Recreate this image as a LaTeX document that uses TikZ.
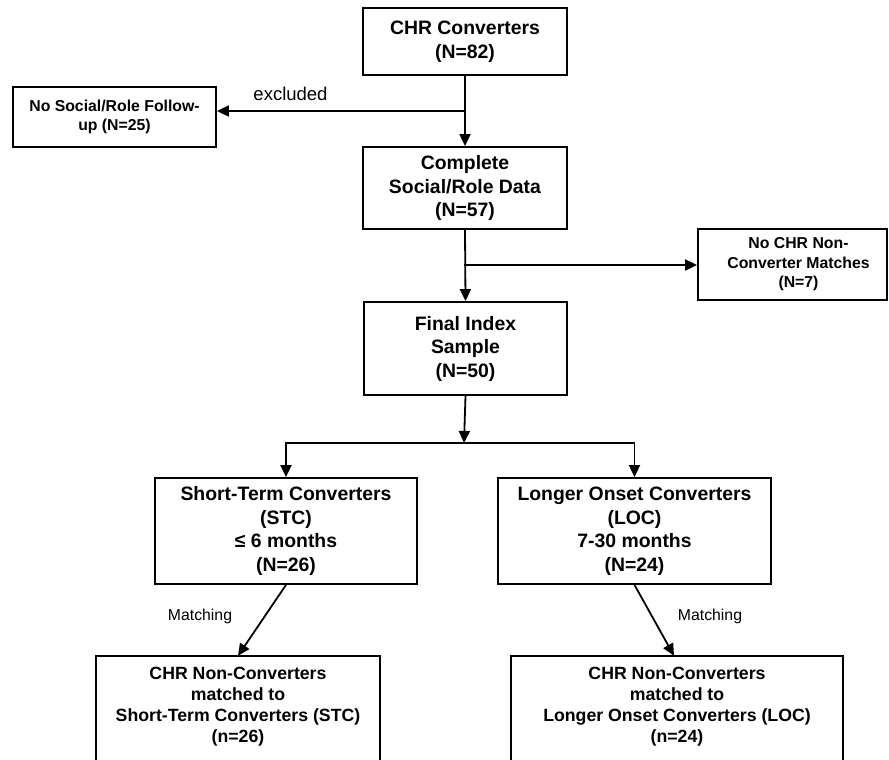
\documentclass[tikz,border=0pt]{standalone}
\usepackage{fontspec}
\setmainfont{Liberation Sans}
\usetikzlibrary{arrows.meta}
\tikzset{
  box/.style={draw, line width=1.8pt, align=center, inner sep=0pt, font=\bfseries\fontsize{19.4}{23.5}\selectfont},
  smallbox/.style={box, font=\bfseries\fontsize{15.8}{19.5}\selectfont},
  openbox/.style={align=center, inner sep=0pt, font=\bfseries\fontsize{17.7}{21}\selectfont},
  boxline/.style={line width=1.8pt},
  arr/.style={line width=1.8pt, -{Triangle[length=12pt,width=11pt]}},
  lbl/.style={inner sep=0pt, anchor=base}
}
\begin{document}
\begin{tikzpicture}[x=1pt,y=-1pt]
\useasboundingbox[fill=white] (0,0) rectangle (889,760);
% boxes
\node[box, minimum width=204, minimum height=67] (chr) at (465,41.5) {CHR Converters\\(N=82)};
\node[smallbox, minimum width=203, minimum height=60] (nosocial) at (114.5,117) {No Social/Role Follow-\\up (N=25)};
\node[box, minimum width=204, minimum height=82] (complete) at (465,188) {Complete\\Social/Role Data\\(N=57)};
\node[smallbox, minimum width=189, minimum height=71] (nochr) at (792.5,264.5) {\hspace*{12pt}No CHR Non-\\\hspace*{12pt}Converter Matches\\\hspace*{12pt}(N=7)};
\node[box, minimum width=203, minimum height=93] (final) at (465.5,348.5) {Final Index\\Sample\\(N=50)};
\node[box, minimum width=262, minimum height=106] (stc) at (286,531) {Short-Term Converters\\(STC)\\≤ 6 months\\(N=26)};
\node[box, minimum width=273, minimum height=106] (loc) at (634.5,531) {Longer Onset Converters\\(LOC)\\7-30 months\\(N=24)};
\node[openbox, minimum width=284, minimum height=101] (botL) at (238,706.5) {CHR Non-Converters\\matched to\\Short-Term Converters (STC)\\(n=26)};
\node[openbox, minimum width=332, minimum height=101] (botR) at (677,706.5) {CHR Non-Converters\\matched to\\Longer Onset Converters (LOC)\\(n=24)};
\draw[boxline] ([yshift=-15]botL.south west) |- (botL.north east) -- ([yshift=-15]botL.south east);
\draw[boxline] ([yshift=-15]botR.south west) |- (botR.north east) -- ([yshift=-15]botR.south east);
% junctions
\coordinate (j1) at (464,111);
\coordinate (j2) at (464,265);
\coordinate (split) at (464,443);
% connectors
\draw[arr] (chr.south) -- (complete.north);
\draw[arr] (j1) -- (j1 -| nosocial.east);
\draw[arr] (complete.south) -- (final.north);
\draw[arr] (j2) -- (j2 -| nochr.west);
\draw[arr] (final.south) -- (split);
\draw[arr] (split) -| (stc.north);
\draw[arr] (split) -| (loc.north);
\draw[arr] (stc.south) -- (botL.north);
\draw[arr] (loc.south) -- ([xshift=-3]botR.north);
% labels
\node[lbl, font=\fontsize{18.5}{20}\selectfont] (lexcl) at (290.5,100) {excluded};
\node[lbl, font=\fontsize{15.8}{18}\selectfont] (lm1) at (200,620) {Matching};
\node[lbl, font=\fontsize{15.8}{18}\selectfont] (lm2) at (710,620) {Matching};
\end{tikzpicture}
\end{document}
